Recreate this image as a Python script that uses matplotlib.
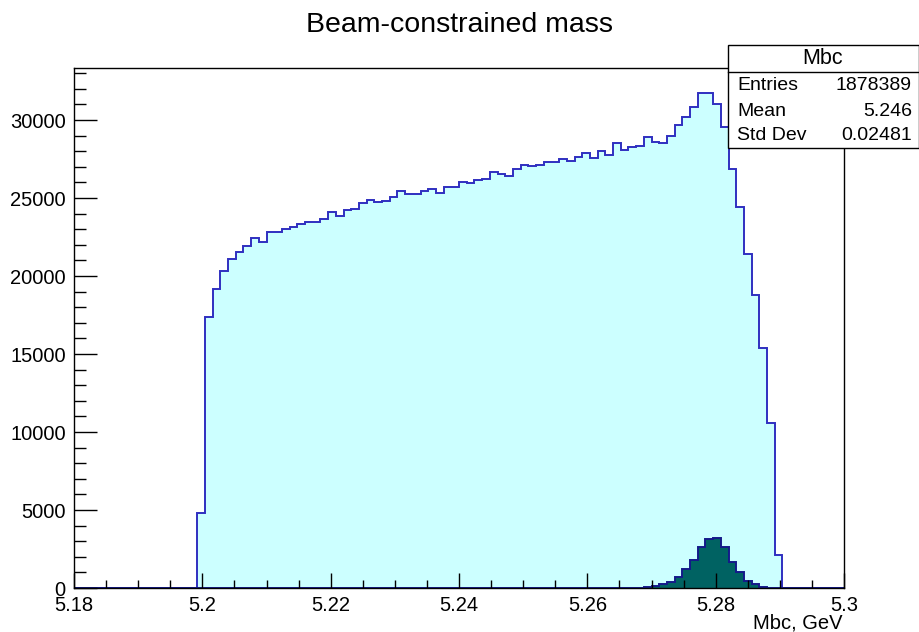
import numpy as np
import matplotlib
matplotlib.use("Agg")
import matplotlib.pyplot as plt
from matplotlib.patches import Rectangle
from matplotlib.lines import Line2D
from matplotlib.ticker import MultipleLocator, FixedLocator

plt.rcParams["font.family"] = ["Liberation Sans", "DejaVu Sans"]

# ── Data ──────────────────────────────────────────────────
X_LO, X_HI, N_BINS = 5.18, 5.30, 100

# all candidates, starting at bin 16
ALL_FIRST_BIN = 16
all_counts = [
    4830, 17370, 19170, 20340, 21090, 21540, 21900, 22420, 22180, 22800,
    22800, 23030, 23160, 23330, 23480, 23480, 23670, 24110, 23870, 24210,
    24290, 24660, 24890, 24760, 24830, 25090, 25430, 25280, 25280, 25430,
    25600, 25340, 25730, 25730, 26030, 25940, 26170, 26240, 26690, 26520,
    26430, 26860, 27140, 27050, 27140, 27310, 27310, 27480, 27390, 27650,
    27910, 27560, 27990, 27740, 28550, 28100, 28270, 28350, 28890, 28610,
    28550, 28970, 29680, 30220, 30830, 31750, 31750, 31030, 29570, 26880,
    24400, 21390, 18780, 15360, 10600, 2120,
]

# signal peak, starting at bin 73
SIG_FIRST_BIN = 73
sig_counts = [
    10, 40, 110, 260, 360, 730, 1200, 1790, 2630, 3130,
    3230, 2650, 1690, 1050, 470, 260, 80, 30,
]

x_ticks = [5.18, 5.20, 5.22, 5.24, 5.26, 5.28, 5.30]
x_tick_labels = ["5.18", "5.2", "5.22", "5.24", "5.26", "5.28", "5.3"]
y_ticks = [0, 5000, 10000, 15000, 20000, 25000, 30000]

stats_rows = [("Entries", "1878389"), ("Mean", "5.246"), ("Std Dev", "0.02481")]


def full_hist(first_bin, counts):
    h = np.zeros(N_BINS)
    h[first_bin:first_bin + len(counts)] = counts
    return h


edges = np.linspace(X_LO, X_HI, N_BINS + 1)
h_all = full_hist(ALL_FIRST_BIN, all_counts)
h_sig = full_hist(SIG_FIRST_BIN, sig_counts)

# ── Plot ──────────────────────────────────────────────────
W, H = 920, 632
fig = plt.figure(figsize=(W / 100, H / 100), dpi=100)
ax = fig.add_axes([74 / W, 1 - 588 / H, (844 - 74) / W, (588 - 68) / H])

ax.stairs(h_all, edges, fill=True, color="#ccffff", linewidth=0)
ax.stairs(h_all, edges, color="#2f2fc0", linewidth=1.4)
ax.stairs(h_sig, edges, fill=True, color="#006262", linewidth=0)
ax.stairs(h_sig, edges, color="#141a8a", linewidth=1.4)

ax.set_xlim(X_LO, X_HI)
ax.set_ylim(0, 1.05 * h_all.max())

for s in ax.spines.values():
    s.set_linewidth(1.0)
    s.set_color("black")

ax.xaxis.set_major_locator(FixedLocator(x_ticks))
ax.set_xticklabels(x_tick_labels)
ax.xaxis.set_minor_locator(MultipleLocator(0.005))
ax.yaxis.set_major_locator(FixedLocator(y_ticks))
ax.set_yticklabels([str(v) for v in y_ticks])
ax.yaxis.set_minor_locator(MultipleLocator(1000))

ax.tick_params(axis="x", which="major", direction="in", length=11, width=1,
               labelsize=14.5, pad=6)
ax.tick_params(axis="x", which="minor", direction="in", length=5.5, width=1)
ax.tick_params(axis="y", which="major", direction="in", length=16.5, width=1,
               labelsize=14.5, pad=6)
ax.tick_params(axis="y", which="minor", direction="in", length=8.5, width=1)

fig.text(460 / W, 1 - 25 / H, "Beam-constrained mass", ha="center", va="center",
         fontsize=20.5)
fig.text(843 / W, 1 - 623 / H, "Mbc, GeV", ha="right", va="center", fontsize=14.5)

# stats box
bx0, bx1, by0, by1 = 728 / W, 919 / W, 1 - 148 / H, 1 - 45 / H
fig.add_artist(Rectangle((bx0, by0), bx1 - bx0, by1 - by0, transform=fig.transFigure,
                         facecolor="white", edgecolor="black", linewidth=1.0, zorder=5))
fig.add_artist(Line2D([bx0, bx1], [1 - 72 / H] * 2, transform=fig.transFigure,
                      color="black", linewidth=1.0, zorder=6))
fig.text(823 / W, 1 - 58 / H, "Mbc", ha="center", va="center", fontsize=15.5, zorder=7)
for i, (name, val) in enumerate(stats_rows):
    yy = 1 - (86 + 25 * i) / H
    fig.text(737 / W, yy, name, ha="left", va="center", fontsize=14, zorder=7)
    fig.text(912 / W, yy, val, ha="right", va="center", fontsize=14, zorder=7)

fig.savefig("out.png", dpi=100, facecolor="white")
